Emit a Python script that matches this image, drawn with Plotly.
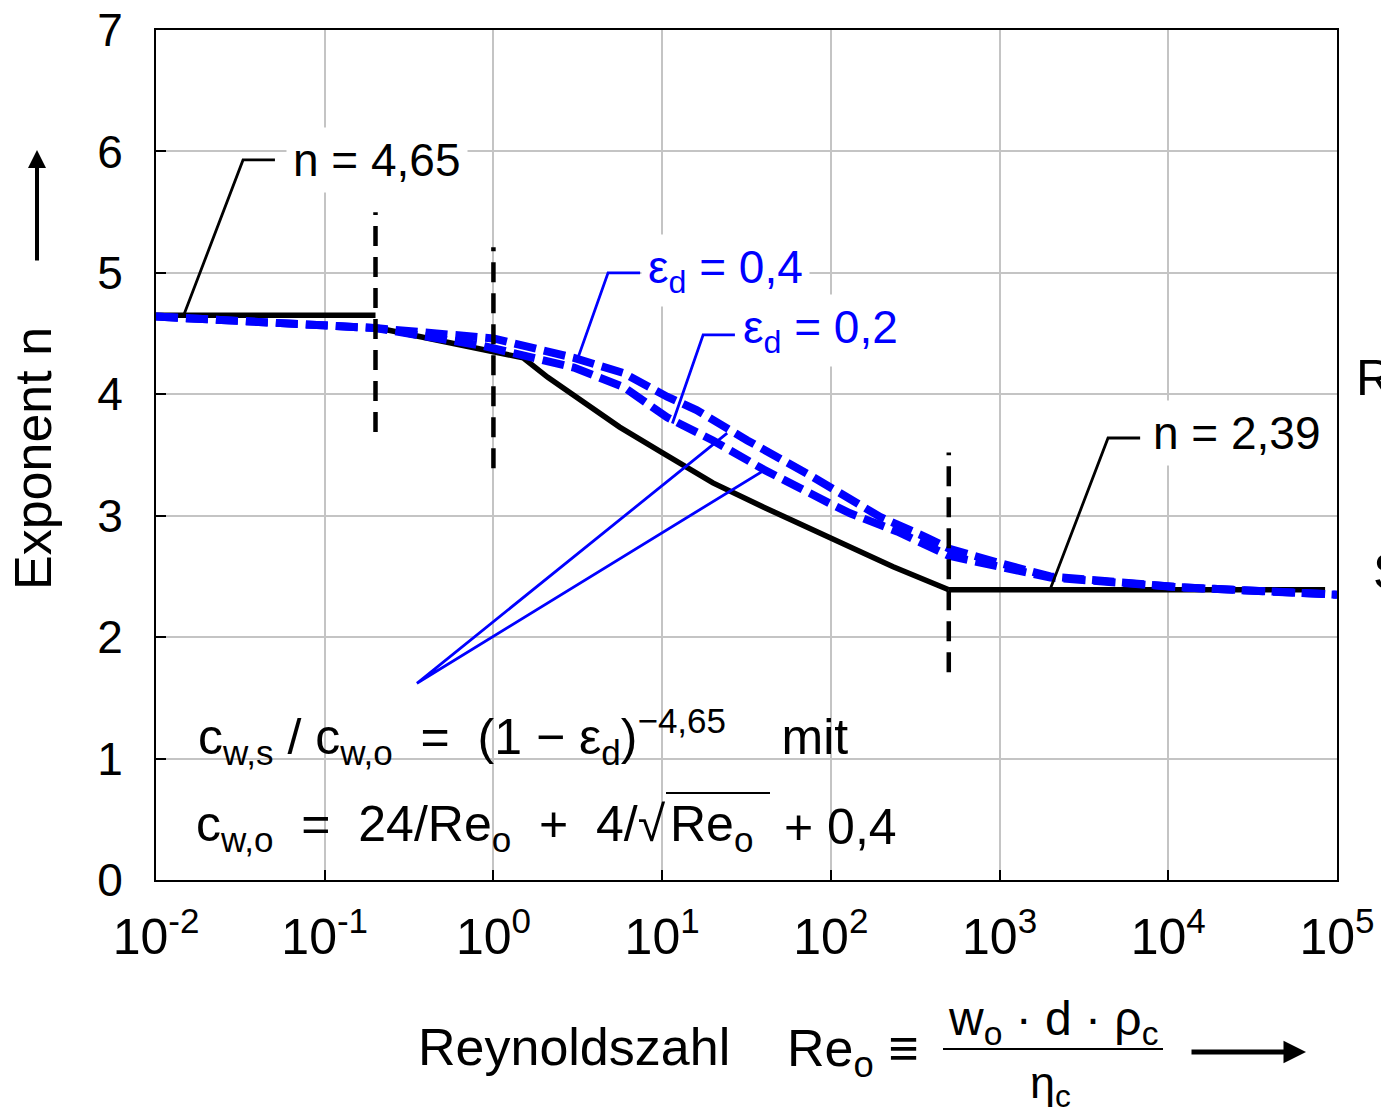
import math
import plotly.graph_objects as go

# ---------------- data ----------------
# Richardson-Zaki exponent n for single particles (black solid)
re_low = [0.01, 0.2]
n_low = [4.65, 4.65]
re_mid = [0.2, 0.5, 1.0, 1.5, 2.1, 3.3, 5.6, 10, 20, 40, 100, 130, 234, 500]
n_mid = [4.55, 4.44, 4.36, 4.30, 4.14, 3.95, 3.73, 3.52, 3.27, 3.07, 2.82, 2.74, 2.58, 2.39]
re_high = [500, 85000]
n_high = [2.39, 2.39]

# blue dashed curves, eps_d = 0.4 and eps_d = 0.2
re_e04 = [0.01, 0.09, 0.2, 1, 3, 5.9, 10.7, 16, 32, 78, 130, 196, 370, 500, 1000, 2000, 12000, 100000]
n_e04 = [4.64, 4.57, 4.545, 4.46, 4.30, 4.175, 3.98, 3.87, 3.62, 3.32, 3.13, 2.99, 2.82, 2.73, 2.61, 2.50, 2.41, 2.35]
re_e02 = [0.01, 0.09, 0.2, 0.86, 3, 5.9, 10.7, 20, 40, 99, 130, 247, 500, 1000, 2000, 12000, 100000]
n_e02 = [4.64, 4.57, 4.545, 4.40, 4.22, 4.06, 3.81, 3.62, 3.38, 3.10, 3.02, 2.87, 2.67, 2.58, 2.49, 2.41, 2.35]

# vertical dashed regime boundaries
vline_re = [0.2, 1, 500]
vline_n_bottom = [3.69, 3.39, 1.71]
vline_n_top = [5.50, 5.21, 3.52]

# leader lines of the labels
lead_n465_re = [0.0145, 0.0328, 0.0507]
lead_n465_n = [4.64, 5.93, 5.93]
lead_n239_re = [1990, 4395, 6810]
lead_n239_n = [2.39, 3.64, 3.64]
lead_e04_re = [3.17, 4.78, 7.4]
lead_e04_n = [4.30, 5.0, 5.0]
lead_e02_re = [11.5, 17.5, 27]
lead_e02_n = [3.76, 4.49, 4.49]
ptr_re = [24.3, 0.352, 41.9]
ptr_n = [3.68, 1.62, 3.39]

x_tickvals = [1e-2, 1e-1, 1e0, 1e1, 1e2, 1e3, 1e4, 1e5]
x_ticktext = ["10<sup>-2</sup>", "10<sup>-1</sup>", "10<sup>0</sup>", "10<sup>1</sup>",
              "10<sup>2</sup>", "10<sup>3</sup>", "10<sup>4</sup>", "10<sup>5</sup>"]
y_tickvals = [0, 1, 2, 3, 4, 5, 6, 7]

# ---------------- figure ----------------
W, H = 1381, 1119
L, R, T, B = 156, 1337, 30, 880
FONT = "Liberation Sans, Arial, sans-serif"
BLUE = "#0000ff"
NB = "\u00a0"


def PX(px):
    return (px - L) / (R - L)


def PY(py):
    return (B - py) / (B - T)


fig = go.Figure()

# black solid
for xs, ys in [(re_low, n_low), (re_mid, n_mid), (re_high, n_high)]:
    fig.add_trace(go.Scatter(x=xs, y=ys, mode="lines",
                             line=dict(color="black", width=5.5), hoverinfo="skip"))

# blue dashed curves
for xs, ys in [(re_e04, n_e04), (re_e02, n_e02)]:
    fig.add_trace(go.Scatter(x=xs, y=ys, mode="lines",
                             line=dict(color=BLUE, width=8, dash="22px,8px"),
                             hoverinfo="skip"))

# leader lines
for xs, ys, c in [(lead_n465_re, lead_n465_n, "black"), (lead_n239_re, lead_n239_n, "black"),
                  (lead_e04_re, lead_e04_n, BLUE), (lead_e02_re, lead_e02_n, BLUE),
                  (ptr_re, ptr_n, BLUE)]:
    fig.add_trace(go.Scatter(x=xs, y=ys, mode="lines",
                             line=dict(color=c, width=2.8), hoverinfo="skip"))

# vertical dashed lines
for xv, y0, y1 in zip(vline_re, vline_n_bottom, vline_n_top):
    fig.add_trace(go.Scatter(x=[xv, xv], y=[y0, y1], mode="lines",
                             line=dict(color="black", width=4.5, dash="20px,11px"),
                             hoverinfo="skip"))

ann = []


def text(px, py, s, size=44, color="black", xanchor="left", yanchor="middle", bg=None, **kw):
    d = dict(xref="paper", yref="paper", x=PX(px), y=PY(py), text=s, showarrow=False,
             xanchor=xanchor, yanchor=yanchor,
             font=dict(family=FONT, size=size, color=color))
    if bg:
        d["bgcolor"] = bg
        d["borderpad"] = 6
    d.update(kw)
    ann.append(d)


text(286, 160, "n = 4,65", size=46, bg="white")
text(1146, 433, "n = 2,39", size=46, bg="white")
text(641, 270, "ε<sub>d</sub> = 0,4", size=46, color=BLUE, bg="white")
text(736, 330, "ε<sub>d</sub> = 0,2", size=46, color=BLUE, bg="white")

# formula line 1
text(196, 736,
     "c<sub>w,s</sub>" + NB + "/" + NB + "c<sub>w,o</sub>" + NB * 2 + "=" + NB * 2 + "(1" + NB + "−" + NB
     + "ε<sub>d</sub>)<sup>−4,65</sup>" + NB * 4 + "mit", size=50)
# formula line 2 (split around the square root so the overline can be placed)
text(668, 827, "c<sub>w,o</sub>" + NB * 2 + "=" + NB * 2 + "24/Re<sub>o</sub>" + NB * 2 + "+"
     + NB * 2 + "4/√", size=50, xanchor="right")
text(668, 827, "Re<sub>o</sub>", size=50)
text(782, 827, "+" + NB + "0,4", size=50)

# axis titles
text(33, 458, "Exponent n", size=52, xanchor="center", textangle=-90)
text(416, 1047, "Reynoldszahl", size=52)
text(785, 1052, "Re<sub>o</sub>" + NB + "≡", size=52)
text(1053, 1022, "w<sub>o</sub> · d · ρ<sub>c</sub>", size=48, xanchor="center")
text(1050, 1085, "η<sub>c</sub>", size=45, xanchor="center")

# off-canvas cut text
text(1354, 378, "R", size=50)
text(1371, 572, "S", size=50)

# arrows
ann.append(dict(xref="paper", yref="paper", x=PX(1306), y=PY(1052), ax=-116, ay=0,
                axref="pixel", ayref="pixel", text="", showarrow=True,
                arrowhead=2, arrowwidth=5, arrowsize=0.9, arrowcolor="black"))
ann.append(dict(xref="paper", yref="paper", x=PX(37), y=PY(150), ax=0, ay=112,
                axref="pixel", ayref="pixel", text="", showarrow=True,
                arrowhead=2, arrowwidth=4, arrowsize=0.9, arrowcolor="black"))

shapes = [
    # white box behind the formula
    dict(type="rect", xref="paper", yref="paper", x0=PX(167), x1=PX(903),
         y0=PY(862), y1=PY(690), fillcolor="white", line=dict(width=0), layer="between"),
    # fraction bar
    dict(type="line", xref="paper", yref="paper", x0=PX(943), x1=PX(1163),
         y0=PY(1049), y1=PY(1049), line=dict(color="black", width=2)),
    # overline of the square root
    dict(type="line", xref="paper", yref="paper", x0=PX(666), x1=PX(770),
         y0=PY(793), y1=PY(793), line=dict(color="black", width=2)),
]

fig.update_layout(
    width=W, height=H,
    margin=dict(l=L, r=W - R, t=T, b=H - B, pad=0),
    paper_bgcolor="white", plot_bgcolor="white",
    showlegend=False, hovermode=False,
    annotations=ann, shapes=shapes,
    font=dict(family=FONT, color="black"),
)
fig.update_xaxes(type="log", range=[-2, 5], tickvals=x_tickvals, ticktext=x_ticktext,
                 showgrid=True, gridcolor="#c4c4c4", gridwidth=2,
                 showline=True, linecolor="black", linewidth=2, mirror=True,
                 ticks="inside", ticklen=10, tickwidth=2, tickcolor="black",
                 tickfont=dict(family=FONT, size=50, color="black"), ticklabelstandoff=12,
                 zeroline=False, automargin=False)
fig.update_yaxes(range=[0, 7], tickvals=y_tickvals,
                 showgrid=True, gridcolor="#c4c4c4", gridwidth=2,
                 showline=True, linecolor="black", linewidth=2, mirror=True,
                 ticks="inside", ticklen=10, tickwidth=2, tickcolor="black",
                 tickfont=dict(family=FONT, size=46, color="black"), ticklabelstandoff=22,
                 zeroline=False, automargin=False)

fig.write_html("out.html")
